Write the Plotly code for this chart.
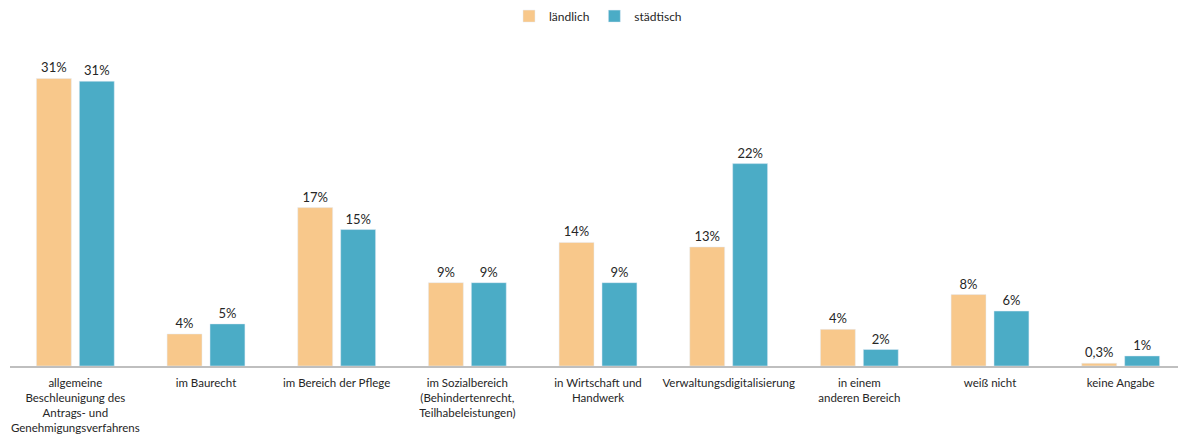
import plotly.graph_objects as go

categories = [
    "allgemeine<br>Beschleunigung des<br>Antrags- und<br>Genehmigungsverfahrens",
    "im Baurecht",
    "im Bereich der Pflege",
    "im Sozialbereich<br>(Behindertenrecht,<br>Teilhabeleistungen)",
    "in Wirtschaft und<br>Handwerk",
    "Verwaltungsdigitalisierung",
    "in einem<br>anderen Bereich",
    "weiß nicht",
    "keine Angabe",
]
laendlich = [31.4, 3.5, 17.3, 9.1, 13.5, 13.0, 4.0, 7.8, 0.3]
staedtisch = [31.1, 4.6, 14.9, 9.1, 9.1, 22.1, 1.8, 6.0, 1.1]
laendlich_labels = ["31%", "4%", "17%", "9%", "14%", "13%", "4%", "8%", "0,3%"]
staedtisch_labels = ["31%", "5%", "15%", "9%", "9%", "22%", "2%", "6%", "1%"]

FONT = "Lato, 'Open Sans', sans-serif"
TXT = "#262626"

fig = go.Figure()
fig.add_trace(go.Bar(
    name="ländlich", x=categories, y=laendlich, text=laendlich_labels,
    textposition="outside", marker_color="#F8C88B", cliponaxis=False,
    constraintext="none",
    textfont=dict(size=13, color=TXT, family=FONT),
))
fig.add_trace(go.Bar(
    name="städtisch", x=categories, y=staedtisch, text=staedtisch_labels,
    textposition="outside", marker_color="#4BACC6", cliponaxis=False,
    constraintext="none",
    textfont=dict(size=13, color=TXT, family=FONT),
))

# page body has an 8px margin: compensate so the plot lands where the reference has it
fig.update_layout(
    width=1178, height=426,
    margin=dict(l=2, r=0, t=32, b=68),
    paper_bgcolor="white", plot_bgcolor="white",
    barmode="group", bargap=0.343, bargroupgap=0.186,
    font=dict(family=FONT, size=12, color=TXT),
    legend=dict(orientation="h", x=0.5, xanchor="center", y=0.981, yanchor="middle",
                yref="container", font=dict(size=12, color=TXT),
                itemwidth=30, traceorder="normal"),
    showlegend=True,
)
fig.update_xaxes(showline=True, linecolor="#BFBFBF", linewidth=2, ticks="",
                 ticklabelstandoff=5, automargin=False,
                 tickfont=dict(size=11.5, color=TXT, family=FONT), showgrid=False)
fig.update_yaxes(visible=False, range=[0, 35.6], showgrid=False, zeroline=False,
                 automargin=False)

fig.write_html("out.html")
